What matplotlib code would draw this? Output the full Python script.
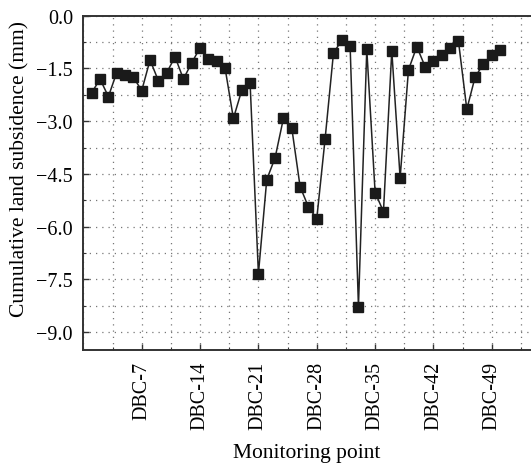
import matplotlib
matplotlib.use('Agg')
import matplotlib.pyplot as plt
from matplotlib.ticker import MultipleLocator, FuncFormatter

plt.rcParams['font.family'] = ['Liberation Serif', 'DejaVu Serif']

# 监测点 DBC-1 ~ DBC-50
points = list(range(1, 51))
subsidence = [-2.19, -1.80, -2.30, -1.62, -1.69, -1.75, -2.13, -1.26, -1.85, -1.62,
              -1.17, -1.80, -1.34, -0.91, -1.23, -1.30, -1.49, -2.92, -2.12, -1.91,
              -7.34, -4.66, -4.04, -2.92, -3.19, -4.86, -5.44, -5.77, -3.50, -1.07,
              -0.69, -0.85, -8.27, -0.96, -5.03, -5.57, -1.00, -4.61, -1.54, -0.88,
              -1.45, -1.30, -1.11, -0.91, -0.73, -2.66, -1.74, -1.37, -1.11, -0.97]
tick_pos = [7, 14, 21, 28, 35, 42, 49]
tick_labels = ['DBC-%d' % n for n in tick_pos]

fig = plt.figure(figsize=(5.31, 4.64), dpi=100)
ax = fig.add_axes([0.157, 0.244, 0.843, 0.720])

ax.plot(points, subsidence, color='#222222', lw=1.1, marker='s', ms=6.5,
        mfc='#1a1a1a', mec='#1a1a1a', zorder=3)

ax.set_xlim(0, 53.7)
ax.set_ylim(-9.5, 0)
ax.set_xticks(tick_pos)
ax.set_xticklabels(tick_labels, rotation=90)
ax.xaxis.set_minor_locator(MultipleLocator(3.5))
ax.yaxis.set_major_locator(MultipleLocator(1.5))
ax.yaxis.set_minor_locator(MultipleLocator(0.75))
ax.yaxis.set_major_formatter(FuncFormatter(lambda v, p: ('%.1f' % v).replace('-', '\u2212')))

ax.tick_params(which='both', direction='in', labelsize=14.5, color='#333333')
ax.tick_params(which='major', length=4, width=1)
ax.tick_params(which='minor', length=2, width=0.8)
ax.tick_params(axis='x', pad=8)
ax.tick_params(axis='y', pad=7.5)

ax.grid(True, which='both', color='#777777', linestyle=(0, (1, 4)), lw=0.9)

for s in ['left', 'bottom', 'top']:
    ax.spines[s].set_linewidth(1.4)
    ax.spines[s].set_color('#333333')
ax.spines['right'].set_visible(False)

ax.set_xlabel('Monitoring point', fontsize=15.5, labelpad=10)
ax.set_ylabel('Cumulative land subsidence (mm)', fontsize=15.5)
ax.yaxis.set_label_coords(-0.121, 0.544)

fig.savefig('out.png', dpi=100)
